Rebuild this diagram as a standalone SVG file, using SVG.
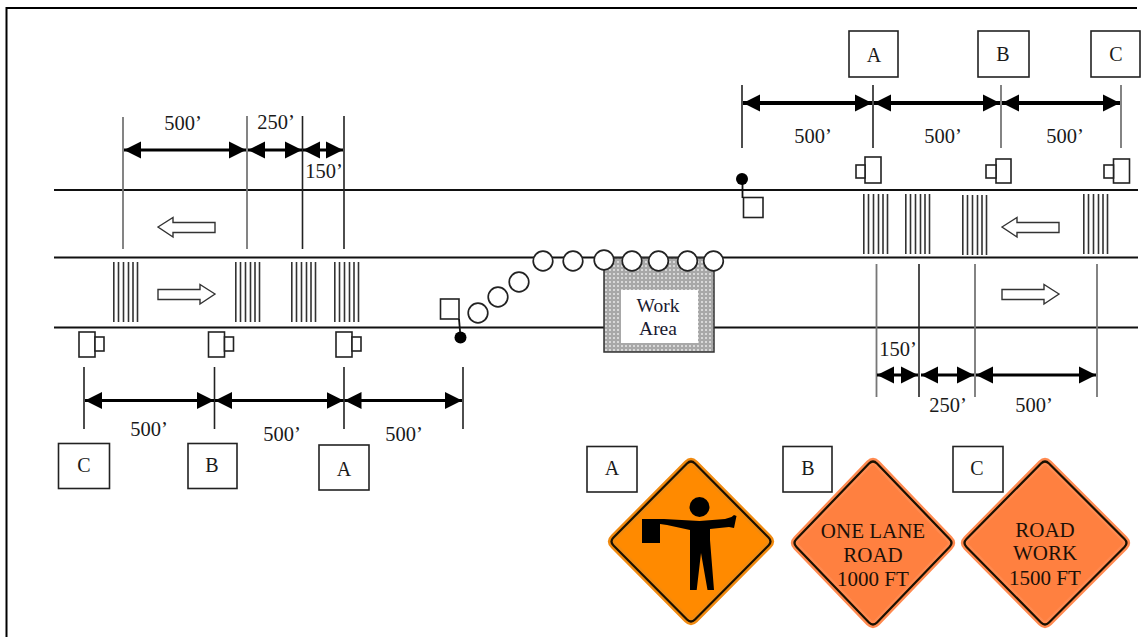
<svg xmlns="http://www.w3.org/2000/svg" xmlns:xlink="http://www.w3.org/1999/xlink" width="1146" height="637" viewBox="0 0 1146 637">
<style>
text{font-family:"Liberation Serif","Times New Roman",serif;fill:#1a1a1a}
.dim{font-size:20.500px;text-anchor:middle}
.lab{font-size:20px;text-anchor:middle}
.sg{font-size:21px;text-anchor:middle;fill:#1c1008}
.wk{font-size:19.500px;text-anchor:middle;fill:#1a1a30}
.road{stroke:#111;stroke-width:2;fill:none}
.ext{stroke:#222;stroke-width:1.600;fill:none}
.extg{stroke:#777;stroke-width:1.800;fill:none}
.da{stroke:#000;stroke-width:3.200;fill:none;marker-start:url(#ah);marker-end:url(#ah)}
.box{fill:#fff;stroke:#222;stroke-width:1.600}
.bar{stroke:#333;stroke-width:1.600;fill:none}
.out{fill:#fff;stroke:#333;stroke-width:1.400}
.cone{fill:#fff;stroke:#222;stroke-width:1.700}
.sign{fill:#fff;stroke:#222;stroke-width:1.600}
.dot{fill:#000}
.edgeA{fill:#ff8a00;stroke:#f08a10;stroke-width:7;stroke-linejoin:round}
.edgeB{fill:#ff8040;stroke:#ff8a50;stroke-width:7;stroke-linejoin:round}
.lineS{fill:none;stroke:#1a1000;stroke-width:2.200;stroke-linejoin:round}
</style>
<defs>
<marker id="ah" markerUnits="userSpaceOnUse" markerWidth="18" markerHeight="18" refX="17" refY="9" orient="auto-start-reverse"><path d="M0 0.500L17 9L0 17.500z" fill="#000"/></marker>
<pattern id="tex" width="4" height="4" patternUnits="userSpaceOnUse"><rect width="4" height="4" fill="#a8a8a8"/><circle cx="2" cy="2" r="1" fill="#e8e8e8"/></pattern>
<g id="drums"><path class="bar" d="M0.800 0V60M5.500 0V60M10.500 0V60M15.500 0V60M20 0V60M24.500 0V60"/></g>
<path id="al" class="out" d="M0 0L15-9.500V-4.500H57V5.500H15V10z"/>
<path id="ar" class="out" d="M57 0L42-9.500V-4.500H0V5.500H42V10z"/>
<path id="dA" d="M695 463.500L768.500 537.500Q772.500 541.500 768.500 545.500L695 619.500Q691 623.500 687 619.500L613.500 545.500Q609.500 541.500 613.500 537.500L687 463.500Q691 459.500 695 463.500z"/>
<path id="dB" d="M877 463.500L949.500 539Q953.500 543 949.500 547L877 622.500Q873 626.500 869 622.500L796.500 547Q792.500 543 796.500 539L869 463.500Q873 459.500 877 463.500z"/>
<path id="dC" d="M1049 463.500L1124.500 539Q1128.500 543 1124.500 547L1049 622.500Q1045 626.500 1041 622.500L966.500 547Q962.500 543 966.500 539L1041 463.500Q1045 459.500 1049 463.500z"/>
</defs>
<rect width="1146" height="637" fill="#fff"/>
<g id="frame"><path d="M1137 8H6.500V637" fill="none" stroke="#000" stroke-width="2"/></g>
<g id="roads">
<path class="road" d="M54 190H1138M54 257.500H1138M54 327.500H1138"/>
</g>
<g id="connectors">
<path class="extg" d="M123 117V249"/>
<path class="extg" d="M247 116V249"/>
<path class="ext" d="M302.500 116V249M344 116V249"/>
<path class="da" d="M124 150H246"/>
<path class="da" d="M248 150H302"/>
<path class="da" d="M303 150H343"/>
<path class="ext" d="M84 367V429M214.500 367V429M344 367V429M463 367V429"/>
<path class="da" d="M85 400.500H214"/>
<path class="da" d="M215 400.500H343.500"/>
<path class="da" d="M344.500 400.500H462"/>
<path class="ext" d="M742 85V148M873 85V148"/>
<path class="extg" d="M1001 85V148M1121 85V148"/>
<path class="da" style="stroke-width:4" d="M743 103H872"/>
<path class="da" style="stroke-width:4" d="M874 103H1000"/>
<path class="da" style="stroke-width:4" d="M1002 103H1120"/>
<path class="extg" d="M876.500 264V397"/>
<path class="ext" d="M919 264V397"/>
<path class="extg" d="M975 264V397M1097 264V397"/>
<path class="da" d="M877 375H918"/>
<path class="da" d="M921 375H974"/>
<path class="da" d="M976 375H1096"/>
</g>
<g id="dim-labels">
<text class="dim" x="183" y="130">500’</text>
<text class="dim" x="276" y="129">250’</text>
<text class="dim" x="324" y="178">150’</text>
<text class="dim" x="149" y="436">500’</text>
<text class="dim" x="282" y="441">500’</text>
<text class="dim" x="404" y="441">500’</text>
<text class="dim" x="813" y="143">500’</text>
<text class="dim" x="943" y="143">500’</text>
<text class="dim" x="1065" y="143">500’</text>
<text class="dim" x="898" y="356">150’</text>
<text class="dim" x="948" y="412">250’</text>
<text class="dim" x="1034" y="412">500’</text>
</g>
<g id="drums-left">
<use xlink:href="#drums" href="#drums" x="113" y="262"/>
<use xlink:href="#drums" href="#drums" x="235" y="262"/>
<use xlink:href="#drums" href="#drums" x="291" y="262"/>
<use xlink:href="#drums" href="#drums" x="334" y="262"/>
</g>
<g id="drums-right">
<use xlink:href="#drums" href="#drums" x="863" y="194"/>
<use xlink:href="#drums" href="#drums" x="905" y="194"/>
<use xlink:href="#drums" href="#drums" x="962" y="195"/>
<use xlink:href="#drums" href="#drums" x="1083" y="194"/>
</g>
<g id="traffic-arrows">
<use xlink:href="#al" href="#al" x="158" y="227"/>
<use xlink:href="#ar" href="#ar" x="158" y="294"/>
<use xlink:href="#al" href="#al" x="1002" y="227"/>
<use xlink:href="#ar" href="#ar" x="1002" y="294"/>
</g>
<g id="signs-left">
<g id="sign-l1"><rect class="sign" x="79" y="332" width="16" height="25"/><rect class="sign" x="95" y="337" width="9" height="14"/></g>
<g id="sign-l2"><rect class="sign" x="208.500" y="332" width="16" height="25"/><rect class="sign" x="224.500" y="337" width="9" height="14"/></g>
<g id="sign-l3"><rect class="sign" x="336" y="332" width="16" height="25"/><rect class="sign" x="352" y="337" width="9" height="14"/></g>
</g>
<g id="signs-right">
<g id="sign-r1"><rect class="sign" x="865" y="157" width="16" height="26"/><rect class="sign" x="856" y="165" width="9" height="13"/></g>
<g id="sign-r2"><rect class="sign" x="996" y="159" width="15" height="24"/><rect class="sign" x="986" y="165" width="10" height="13"/></g>
<g id="sign-r3"><rect class="sign" x="1113.500" y="159" width="16" height="24"/><rect class="sign" x="1104" y="165" width="9.500" height="13"/></g>
</g>
<g id="flagger-left">
<rect class="sign" x="440.500" y="299" width="18.500" height="20"/>
<path d="M459 319L460.500 337" stroke="#111" stroke-width="1.800" fill="none"/>
<circle class="dot" cx="460.500" cy="337.500" r="6"/>
</g>
<g id="flagger-right">
<rect class="sign" x="743.500" y="197.500" width="19.500" height="20"/>
<path d="M742.500 179V198" stroke="#111" stroke-width="1.800" fill="none"/>
<circle class="dot" cx="742" cy="179" r="6"/>
</g>
<g id="work-area">
<rect x="604" y="258" width="110" height="94" fill="url(#tex)" stroke="#333" stroke-width="1.500"/>
<rect x="621" y="290" width="77" height="53" fill="#fff"/>
<text class="wk" x="658" y="312">Work</text>
<text class="wk" x="658" y="335">Area</text>
</g>
<g id="cones">
<circle class="cone" cx="478" cy="313" r="9.800"/>
<circle class="cone" cx="498" cy="297" r="9.800"/>
<circle class="cone" cx="519" cy="282" r="9.800"/>
<circle class="cone" cx="543" cy="261" r="9.800"/>
<circle class="cone" cx="573" cy="261" r="9.800"/>
<circle class="cone" cx="604" cy="260" r="9.800"/>
<circle class="cone" cx="632" cy="261" r="9.800"/>
<circle class="cone" cx="658.500" cy="261" r="9.800"/>
<circle class="cone" cx="687.500" cy="261" r="9.800"/>
<circle class="cone" cx="713.500" cy="261" r="9.800"/>
</g>
<g id="box-top-a"><rect class="box" x="849" y="31" width="49" height="46"/><text class="lab" x="874" y="62">A</text></g>
<g id="box-top-b"><rect class="box" x="978" y="31" width="51" height="46"/><text class="lab" x="1003" y="61">B</text></g>
<g id="box-top-c"><rect class="box" x="1091" y="31" width="49" height="46"/><text class="lab" x="1116" y="61">C</text></g>
<g id="box-left-c"><rect class="box" x="58.500" y="443.500" width="51" height="45"/><text class="lab" x="84" y="472">C</text></g>
<g id="box-left-b"><rect class="box" x="188" y="443.500" width="49" height="45"/><text class="lab" x="212" y="472">B</text></g>
<g id="box-left-a"><rect class="box" x="319" y="445" width="50" height="45"/><text class="lab" x="344" y="476">A</text></g>
<g id="sign-a">
<use xlink:href="#dA" href="#dA" class="edgeA"/>
<use xlink:href="#dA" href="#dA" class="lineS"/>
<circle class="dot" cx="699.500" cy="507" r="10"/>
<path class="dot" d="M642 519H664L699.500 521L725 519L731.500 517L734 515L736.500 516L734 528L729 527L710 529L710 540L714 590H707.500L701 553L696.700 590H690V530L667 525L660 524V543H642z"/>
</g>
<g id="box-sign-a"><rect class="box" x="587" y="446.500" width="50" height="45.500"/><text class="lab" x="612" y="475">A</text></g>
<g id="sign-b">
<use xlink:href="#dB" href="#dB" class="edgeB"/>
<use xlink:href="#dB" href="#dB" class="lineS"/>
<text class="sg" x="873" y="538">ONE LANE</text>
<text class="sg" x="873" y="562">ROAD</text>
<text class="sg" x="873" y="586">1000 FT</text>
</g>
<g id="box-sign-b"><rect class="box" x="783" y="446.500" width="49" height="45.500"/><text class="lab" x="808" y="475">B</text></g>
<g id="sign-c">
<use xlink:href="#dC" href="#dC" class="edgeB"/>
<use xlink:href="#dC" href="#dC" class="lineS"/>
<text class="sg" x="1045" y="537">ROAD</text>
<text class="sg" x="1045" y="560">WORK</text>
<text class="sg" x="1045" y="585">1500 FT</text>
</g>
<g id="box-sign-c"><rect class="box" x="953" y="446.500" width="50" height="45.500"/><text class="lab" x="977" y="475">C</text></g>
</svg>
